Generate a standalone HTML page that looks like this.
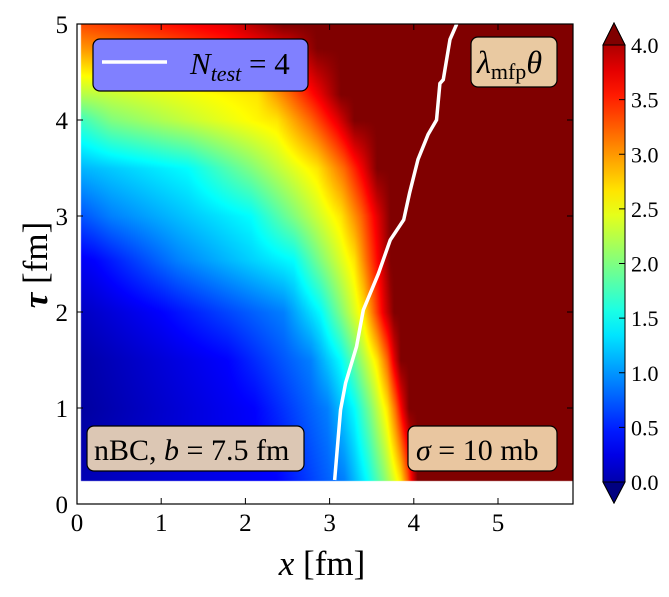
<!DOCTYPE html>
<html><head><meta charset="utf-8"><style>
body{margin:0;background:#fff;width:669px;height:592px;overflow:hidden;font-family:"Liberation Serif",serif}
svg text{font-family:"Liberation Serif",serif}
</style></head><body>
<svg width="669" height="592">
<foreignObject x="77" y="24" width="496" height="480"><canvas id="hm" width="496" height="480" xmlns="http://www.w3.org/1999/xhtml"></canvas></foreignObject>
<g id="ov"></g>
</svg>
<script>
// heatmap rows: x where value crosses each level, per tau row
const levels=[0.5,1,1.5,2,2.6,3.1,3.6,4];
const rowTau=[0.24,1,1.5,2,2.54,3,3.5,4,4.27,4.75,5];
const rowLeft=[0.2,0.12,0.15,0.25,0.45,0.8,1.2,1.7,2.2,2.9,3.2];
const rowCross=[
[2.37,3.17,3.44,3.64,3.84,3.92,3.98,4.04],
[2.1,2.97,3.29,3.48,3.68,3.78,3.86,3.94],
[1.78,2.77,3.13,3.33,3.56,3.68,3.76,3.84],
[1.0,2.45,2.89,3.13,3.4,3.52,3.64,3.76],
[0.2,1.19,2.57,2.89,3.29,3.44,3.6,3.72],
[null,0.4,2.06,2.57,3.13,3.37,3.56,3.72],
[null,null,1.31,2.06,2.85,3.17,3.4,3.56],
[null,null,null,0.4,2.37,2.77,3.09,3.29],
[null,null,null,null,2.14,2.53,2.89,3.13],
[null,null,null,null,null,1.0,2.5,2.85],
[null,null,null,null,null,null,1.78,2.45]];
// N_test=4 line
const lineX=[3.06,3.13,3.19,3.32,3.40,3.58,3.72,3.88,3.95,4.05,4.17,4.27,4.31,4.35,4.43,4.51];
const lineTau=[0.25,0.98,1.26,1.64,2.02,2.4,2.75,2.96,3.24,3.59,3.85,4.0,4.38,4.42,4.84,5.0];
const xTicks=[0,1,2,3,4,5];
const yTicks=[0,1,2,3,4,5];
const cbTicks=["0.0","0.5","1.0","1.5","2.0","2.5","3.0","3.5","4.0"];

const X0=77,XS=84.2,Y0=504,YS=96;
const sx=x=>X0+x*XS, sy=t=>Y0-t*YS;
function jet(v){const t=Math.max(0,Math.min(1,v/4));
 const f=c=>Math.max(0,Math.min(1,1.5-Math.abs(4*t-c)));
 return [f(3)*255,f(2)*255,f(1)*255];}
function rowVal(i,x){const pts=[[0,rowLeft[i]]];
 rowCross[i].forEach((c,k)=>{if(c!==null)pts.push([c,levels[k]]);});
 if(x<=pts[0][0])return pts[0][1];
 for(let k=1;k<pts.length;k++){if(x<=pts[k][0]){const a=pts[k-1],b=pts[k];return a[1]+(b[1]-a[1])*(x-a[0])/(b[0]-a[0]);}}
 return 4;}
const cv=document.getElementById('hm'),ctx=cv.getContext('2d');
const img=ctx.createImageData(496,480);
for(let py=0;py<480;py++){const tau=(Y0-(py+24))/YS;if(tau<0.24)continue;
 let i=0;while(i<rowTau.length-2&&tau>rowTau[i+1])i++;
 const w=Math.max(0,Math.min(1,(tau-rowTau[i])/(rowTau[i+1]-rowTau[i])));
 for(let px=4;px<496;px++){const x=px/XS;
  const v=rowVal(i,x)*(1-w)+rowVal(i+1,x)*w;const c=jet(v);const o=(py*496+px)*4;
  img.data[o]=c[0];img.data[o+1]=c[1];img.data[o+2]=c[2];img.data[o+3]=255;}}
ctx.putImageData(img,0,0);

const NS="http://www.w3.org/2000/svg",ov=document.getElementById('ov');
function mk(t,a,txt){const e=document.createElementNS(NS,t);for(const k in a)e.setAttribute(k,a[k]);if(txt!==undefined)e.textContent=txt;ov.appendChild(e);return e;}
let d=lineX.map((x,i)=>(i?'L':'M')+sx(x)+','+sy(lineTau[i])).join('');
let e=mk('path',{d:d,fill:'none',stroke:'#fff','stroke-width':3.5});


e=mk('rect',{x:77,y:24,width:496,height:480,fill:'none',stroke:'#000','stroke-width':1.2});


xTicks.forEach(v=>{mk('line',{x1:sx(v),x2:sx(v),y1:504,y2:498,stroke:'#000'});mk('line',{x1:sx(v),x2:sx(v),y1:24,y2:30,stroke:'#000'});
 e=mk('text',{x:sx(v),y:531,'font-size':25,'text-anchor':'middle'},v);
 
 });
yTicks.forEach(v=>{mk('line',{x1:77,x2:83,y1:sy(v),y2:sy(v),stroke:'#000'});mk('line',{x1:573,x2:567,y1:sy(v),y2:sy(v),stroke:'#000'});
 e=mk('text',{x:68,y:sy(v)+9,'font-size':25,'text-anchor':'end'},v);
 
 });
// boxes
function box(name,x,y,w,h,fill,op){e=mk('rect',{x:x,y:y,width:w,height:h,rx:7,fill:fill,'fill-opacity':op,stroke:'#000','stroke-width':1.2});
 
 }
box('legend-box',93,39,215,52,'#8080ff',1);
mk('line',{x1:102,x2:167,y1:62,y2:62,stroke:'#fff','stroke-width':3.5});
e=mk('text',{x:190,y:74,'font-size':31,'font-style':'italic'});e.innerHTML='N<tspan font-size="22" dy="7">test</tspan><tspan dy="-7" font-style="normal"> = 4</tspan>';


box('quantity-box',471,37,86,50,'#e9c9a1',1);
e=mk('text',{x:477,y:73,'font-size':32,'font-style':'italic'});e.innerHTML='λ<tspan font-style="normal" font-size="22" dy="6">mfp</tspan><tspan dy="-6">θ</tspan>';


box('settings-box',87,426,217,45,'#dcc7b4',1);
e=mk('text',{x:94,y:460,'font-size':30});e.innerHTML='nBC, <tspan font-style="italic">b</tspan> = 7.5 fm';


box('cross-section-box',408,426,149,45,'#e9c6a0',1);
e=mk('text',{x:416,y:460,'font-size':30});e.innerHTML='<tspan font-style="italic">σ</tspan> = 10 mb';


e=mk('text',{x:322,y:575,'font-size':35,'text-anchor':'middle'});e.innerHTML='<tspan font-style="italic">x</tspan> [fm]';


e=mk('text',{x:0,y:0,'font-size':35,'text-anchor':'middle',transform:'translate(47,265) rotate(-90)'});e.innerHTML='<tspan font-style="italic" font-weight="bold">τ</tspan> [fm]';


// colorbar
const defs=mk('defs',{});const g=document.createElementNS(NS,'linearGradient');g.setAttribute('id','jg');g.setAttribute('x1',0);g.setAttribute('x2',0);g.setAttribute('y1',1);g.setAttribute('y2',0);defs.appendChild(g);
for(let k=0;k<=20;k++){const c=jet(k/5);const s=document.createElementNS(NS,'stop');s.setAttribute('offset',k/20);s.setAttribute('stop-color','rgb('+c.map(Math.round)+')');g.appendChild(s);}
e=mk('path',{d:'M603,45 L614,23 L625,45 L625,482 L614,503 L603,482 Z',fill:'url(#jg)',stroke:'#000','stroke-width':1});


mk('path',{d:'M603,45 L614,23 L625,45 Z',fill:'rgb(128,0,0)',stroke:'#000'});
mk('path',{d:'M603,482 L614,503 L625,482 Z',fill:'rgb(0,0,128)',stroke:'#000'});
cbTicks.forEach((t,k)=>{const y=482-k*(437/8);mk('line',{x1:619,x2:625,y1:y,y2:y,stroke:'#000'});
 e=mk('text',{x:631,y:y+8,'font-size':22},t);
 
 });
</script>
</body></html>
